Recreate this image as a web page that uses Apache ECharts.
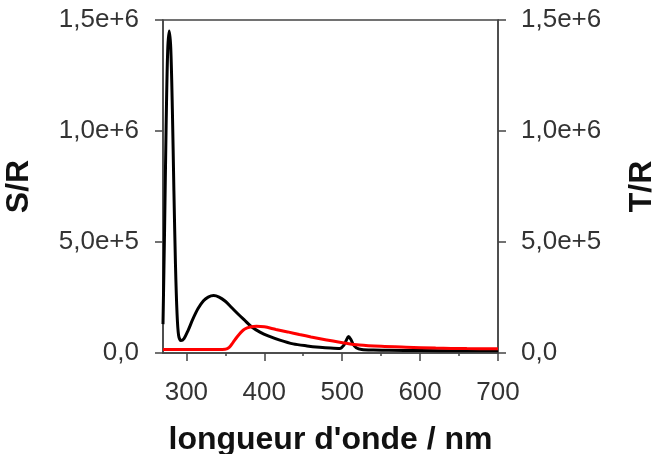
<!DOCTYPE html>
<html lang="fr">
<head>
  <meta charset="UTF-8">
  <title>S/R et T/R</title>
  <script src="https://cdn.jsdelivr.net/npm/echarts@6/dist/echarts.min.js"></script>
  <style>
    html, body { margin: 0; padding: 0; background: #fff; }
  </style>
</head>
<body>
<div id="main" style="width: 668px; height: 454px;"></div>
<script>
  // S/R (noir, axe gauche)
  const srWl = [270, 272, 274, 276, 278, 280, 282, 284, 286, 288, 290, 293, 297, 302, 308, 315, 322, 328, 335, 342,
    350, 358, 366, 374, 384, 395, 405, 420, 437, 455, 471, 485, 497, 502, 505, 508, 511, 514, 518, 525,
    540, 560, 600, 650, 700]
  const srVal = [1.3e5, 5.5e5, 1.02e6, 1.36e6, 1.45e6, 1.37e6, 1.1e6, 7.3e5, 4.0e5, 1.8e5, 8e4, 5.6e4, 6.5e4, 1.0e5, 1.5e5, 2.0e5, 2.35e5, 2.52e5, 2.59e5, 2.52e5,
    2.33e5, 2.05e5, 1.77e5, 1.5e5, 1.17e5, 9.3e4, 7.7e4, 5.8e4, 4.1e4, 3.2e4, 2.6e4, 2.2e4, 2.0e4, 3.5e4, 5.5e4, 7.4e4, 6.2e4, 4.0e4, 2.4e4, 1.6e4,
    1.3e4, 1.2e4, 1.1e4, 1.0e4, 1.0e4]

  // T/R (rouge, axe droit)
  const trWl = [270, 300, 340, 350, 355, 360, 365, 370, 375, 382, 390, 400, 415, 430, 445, 460, 480, 505, 522, 550, 582, 620, 660, 700]
  const trVal = [1.6e4, 1.6e4, 1.6e4, 1.7e4, 2.5e4, 4.8e4, 7.2e4, 9.3e4, 1.08e5, 1.17e5, 1.21e5, 1.18e5, 1.06e5, 9.5e4, 8.3e4, 7.2e4, 5.9e4, 4.4e4, 3.6e4, 3.0e4, 2.6e4, 2.2e4, 2.0e4, 1.9e4]

  const xMajor = [300, 400, 500, 600, 700]
  const xMinor = [350, 450, 550, 650]

  function fmt(v) {
    if (v === 0) return '0,0'
    const e = Math.floor(Math.log10(v) + 1e-9)
    return (v / Math.pow(10, e)).toFixed(1).replace('.', ',') + 'e+' + e
  }

  const axisColor = '#444'
  const labelStyle = { color: '#333', fontSize: 26, fontFamily: 'Liberation Sans, Arial, sans-serif' }
  const nameStyle = { color: '#111', fontSize: 32, fontWeight: 'bold', fontFamily: 'Liberation Sans, Arial, sans-serif' }

  const yBase = {
    type: 'value',
    min: 0,
    max: 1.5e6,
    interval: 5e5,
    nameLocation: 'middle',
    nameRotate: 90,
    nameTextStyle: nameStyle,
    axisLine: { show: true, lineStyle: { color: axisColor, width: 1.5 } },
    axisTick: { show: true, length: 8, lineStyle: { color: axisColor, width: 1.5 } },
    splitLine: { show: false }
  }

  var myChart = echarts.init(document.getElementById('main'))
  var option = {
    animation: false,
    grid: {
      left: 163, right: 170, top: 20, bottom: 101,
      outerBoundsMode: 'none',
      show: true, borderColor: axisColor, borderWidth: 1.5
    },
    xAxis: [
      {
        type: 'value',
        min: 270,
        max: 700,
        name: "longueur d'onde / nm",
        nameLocation: 'middle',
        nameGap: 71,
        nameTextStyle: nameStyle,
        axisLine: { show: true, lineStyle: { color: axisColor, width: 1.5 } },
        axisTick: { show: true, length: 8, customValues: xMajor, lineStyle: { color: axisColor, width: 1.5 } },
        axisLabel: { customValues: xMajor, margin: 27, ...labelStyle },
        splitLine: { show: false }
      },
      {
        type: 'value',
        min: 270,
        max: 700,
        position: 'bottom',
        axisLine: { show: false },
        axisTick: { show: true, length: 3, customValues: xMinor, lineStyle: { color: axisColor, width: 1.5 } },
        axisLabel: { show: false },
        splitLine: { show: false }
      }
    ],
    yAxis: [
      Object.assign({}, yBase, {
        position: 'left',
        name: 'S/R',
        nameGap: 128,
        axisLabel: Object.assign({ margin: 24, formatter: fmt }, labelStyle)
      }),
      Object.assign({}, yBase, {
        position: 'right',
        name: 'T/R',
        nameGap: 128,
        axisLabel: Object.assign({ margin: 23, formatter: fmt }, labelStyle)
      })
    ],
    series: [
      {
        name: 'S/R',
        type: 'line',
        xAxisIndex: 0,
        yAxisIndex: 0,
        smooth: 0.3,
        showSymbol: false,
        lineStyle: { color: '#000', width: 3 },
        z: 3,
        data: srWl.map((w, i) => [w, srVal[i]])
      },
      {
        name: 'T/R',
        type: 'line',
        xAxisIndex: 0,
        yAxisIndex: 1,
        smooth: 0.3,
        showSymbol: false,
        lineStyle: { color: '#ff0000', width: 3 },
        z: 4,
        data: trWl.map((w, i) => [w, trVal[i]])
      }
    ]
  }
  myChart.setOption(option)
</script>
</body>
</html>
